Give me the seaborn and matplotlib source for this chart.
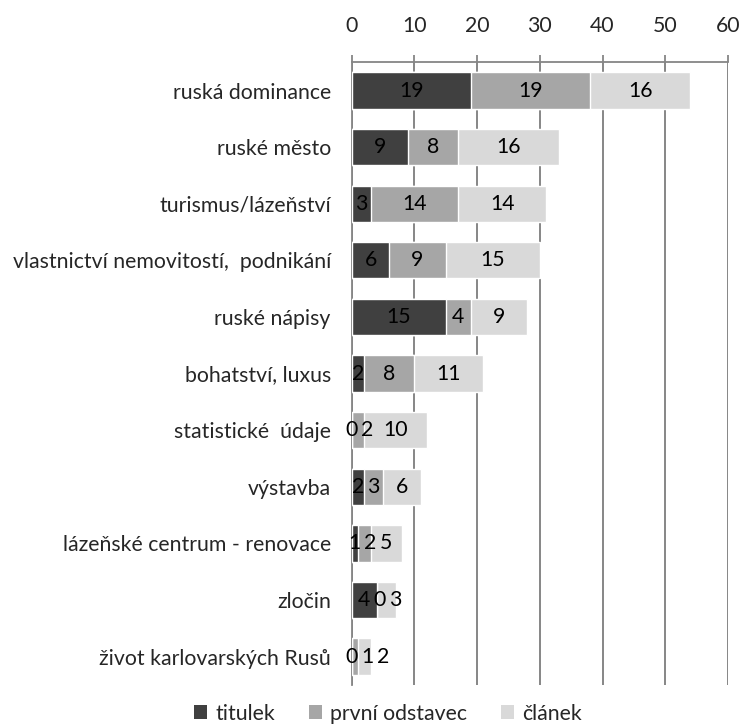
import numpy as np
import pandas as pd
import matplotlib
matplotlib.use("Agg")
import matplotlib.pyplot as plt
import seaborn as sns
from matplotlib.patches import Patch

categories = [
    "ruská dominance",
    "ruské město",
    "turismus/lázeňství",
    "vlastnictví nemovitostí,  podnikání",
    "ruské nápisy",
    "bohatství, luxus",
    "statistické  údaje",
    "výstavba",
    "lázeňské centrum - renovace",
    "zločin",
    "život karlovarských Rusů",
]
titulek = [19, 9, 3, 6, 15, 2, 0, 2, 1, 4, 0]
prvni_odstavec = [19, 8, 14, 9, 4, 8, 2, 3, 2, 0, 1]
clanek = [16, 16, 14, 15, 9, 11, 10, 6, 5, 3, 2]
series_names = ["titulek", "první odstavec", "článek"]
colors = ["#404040", "#a6a6a6", "#d9d9d9"]
xticks = [0, 10, 20, 30, 40, 50, 60]

FS = 15.3

sns.set_style("white")
plt.rcParams["font.family"] = ["Lato", "DejaVu Sans"]

df = pd.DataFrame({
    "kategorie": categories,
    "titulek": titulek,
    "první odstavec": prvni_odstavec,
    "článek": clanek,
})
df["c1"] = df["titulek"]
df["c2"] = df["titulek"] + df["první odstavec"]
df["c3"] = df["c2"] + df["článek"]

fig = plt.figure(figsize=(7.42, 7.24), dpi=100)
ax = fig.add_axes([0.474, 0.054, 0.507, 0.860])

# stacked bars: draw cumulative totals from the back to the front
for col, color in zip(["c3", "c2", "c1"], colors[::-1]):
    sns.barplot(data=df, x=col, y="kategorie", color=color, width=0.64,
                saturation=1, orient="h", ax=ax, zorder=3)

# value labels in the middle of each segment; crowded labels are nudged right
series = [np.asarray(titulek), np.asarray(prvni_odstavec), np.asarray(clanek)]
min_gap = 2.5
left = np.zeros(len(categories))
label_x = []
for vals in series:
    label_x.append(left + vals / 2)
    left = left + vals
label_x = np.array(label_x)
for i in range(len(categories)):
    prev = -np.inf
    for s, vals in enumerate(series):
        x = max(label_x[s, i], prev + min_gap)
        ax.text(x, i, str(vals[i]), ha="center", va="center",
                fontsize=FS, color="black", zorder=5)
        prev = x

ax.set_xlim(0, 60)
ax.set_ylim(len(categories) - 0.5, -0.5)
ax.set_xticks(xticks)
ax.xaxis.tick_top()
ax.set_xlabel("")
ax.set_ylabel("")
ax.tick_params(axis="x", which="major", direction="out", length=5, width=1.3,
               color="#868686", labelsize=FS, pad=14)
ax.tick_params(axis="y", which="major", length=0, labelsize=FS, pad=15)
ax.set_yticks(np.arange(-0.5, len(categories), 1.0), minor=True)
ax.tick_params(axis="y", which="minor", direction="out", length=6, width=1.3,
               color="#868686")

ax.grid(axis="x", color="#868686", linewidth=1.4, zorder=0)
ax.set_axisbelow(True)
for side in ["right", "bottom"]:
    ax.spines[side].set_visible(False)
for side in ["top", "left"]:
    ax.spines[side].set_color("#868686")
    ax.spines[side].set_linewidth(1.3)

handles = [Patch(facecolor=c, edgecolor="none") for c in colors]
fig.legend(handles, series_names, loc="lower center", ncol=3,
           bbox_to_anchor=(0.523, -0.026), frameon=False, fontsize=FS,
           handlelength=0.6, handleheight=0.6, handletextpad=0.4,
           columnspacing=1.6)

fig.savefig("out.png", dpi=100)
